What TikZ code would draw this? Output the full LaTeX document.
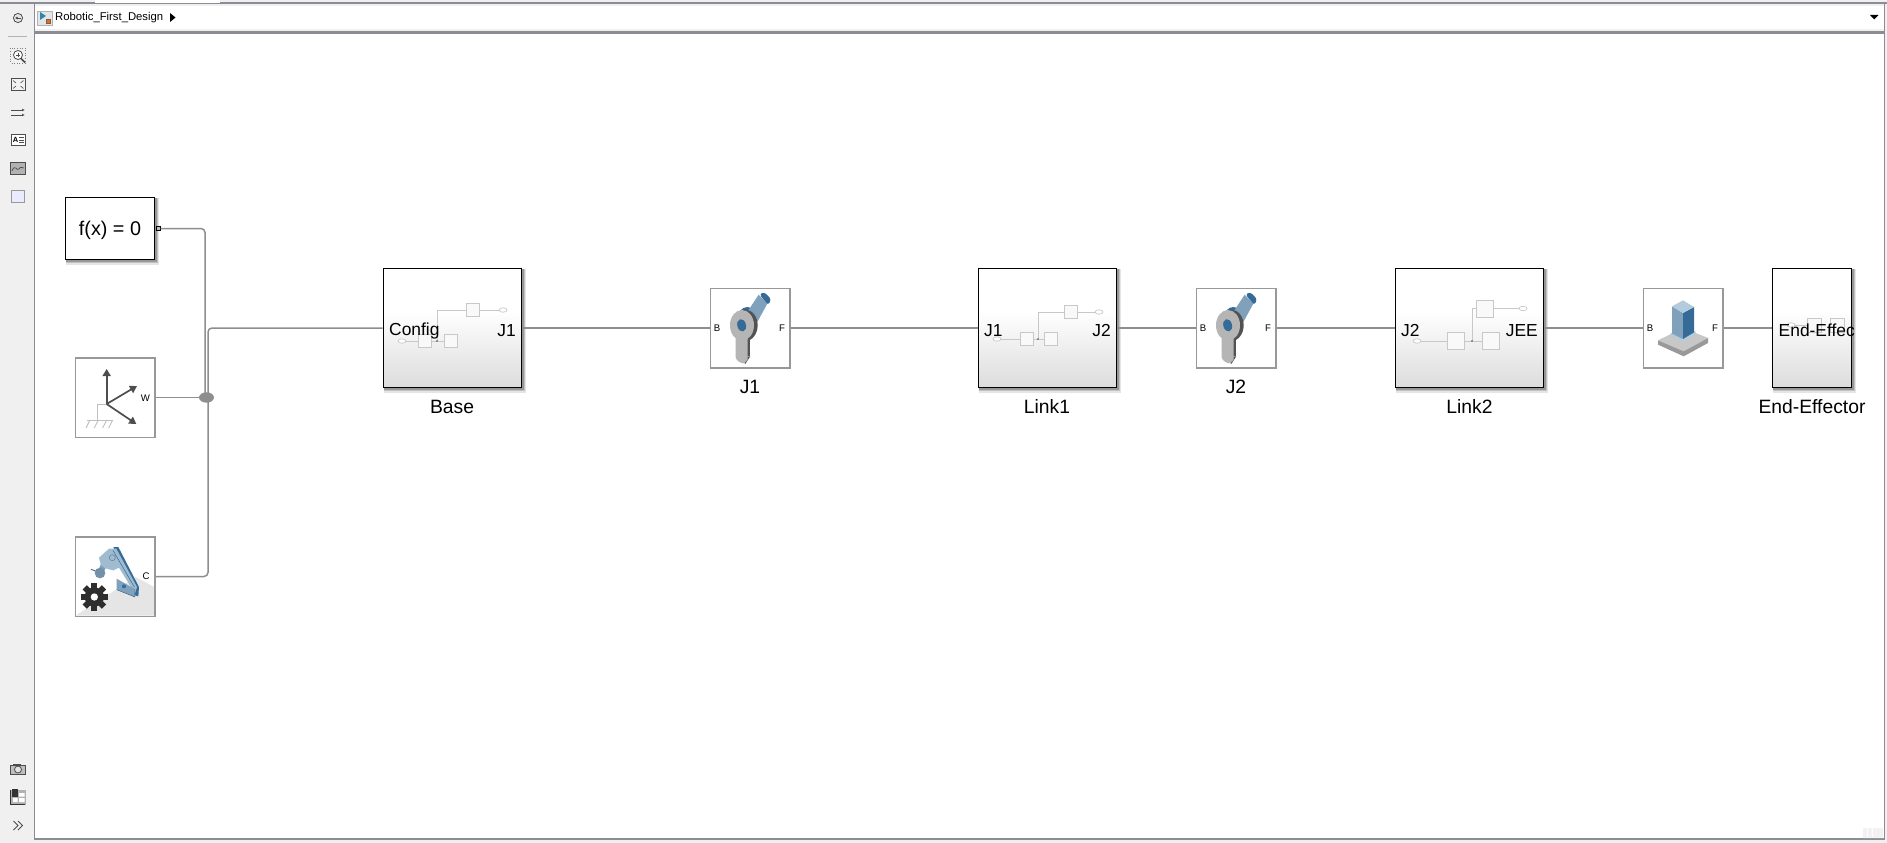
\documentclass[tikz,border=0pt]{standalone}
\usepackage{fontspec}
\setmainfont{Liberation Sans}
\usetikzlibrary{arrows.meta}
\definecolor{uibg}{HTML}{F0F0F0}
\definecolor{uiline}{HTML}{8C8C94}
\definecolor{wirec}{HTML}{8E8E8E}
\definecolor{sgray}{HTML}{DCDCDC}
\definecolor{blockg}{HTML}{989898}
\definecolor{thumb}{HTML}{C8C8C8}
\definecolor{bluea}{HTML}{7FA1BC}
\definecolor{blueb}{HTML}{356B96}
\definecolor{bluec}{HTML}{B3CCDD}
\definecolor{iconc}{HTML}{4D4D4D}
\pgfdeclareverticalshading{subsysfill}{100bp}{color(0bp)=(sgray); color(25bp)=(sgray); color(57bp)=(white); color(100bp)=(white)}
\newcommand{\fs}[1]{\fontsize{#1}{#1}\selectfont}
\tikzset{
  subsys/.style={draw=black,line width=1.4pt,shading=subsysfill,shade,inner sep=0pt,minimum height=119.5pt},
  lib/.style={draw=blockg,line width=1.5pt,fill=white,inner sep=0pt,minimum width=79.5pt,minimum height=79.5pt},
  wire/.style={draw=wirec,line width=1.5pt,rounded corners=4pt},
  blocklabel/.style={font=\fs{19.3},text=black,inner sep=0pt},
  portlabel/.style={font=\fs{17.4},text=black,inner sep=0pt},
  smallport/.style={font=\fs{9.6},text=black,inner sep=0pt},
  thumbline/.style={draw=thumb,line width=.7pt},
  thumbbox/.style={draw=thumb,line width=.7pt,fill=white!60!uibg},
  uiicon/.style={draw=iconc,line width=.8pt},
}
% soft shadow to the lower right of a block: x0,y0,x1,y1 of the block
\newcommand{\softshadow}[4]{%
  \fill[black,opacity=.10] ({#1+1},{#2+1}) rectangle ({#3+4},{#4+4.5});
  \fill[black,opacity=.15] ({#1+1},{#2+1}) rectangle ({#3+3},{#4+3.2});
  \fill[black,opacity=.22] ({#1+1},{#2+1}) rectangle ({#3+2},{#4+2});
}
\newcommand{\thumbnail}[8]{%
  \draw[thumbline] (#1,#2) -- (#4,#2) (#5,#2) -- (#5,#7) -- (#8,#7);
  \fill[black!70] (#5,#2) circle (.8pt);
  \draw[thumbline,fill=white] (#1,#2) ellipse (4pt and 2.2pt);
  \draw[thumbbox] ({#3},{#2-\thumbs/2}) rectangle ++(\thumbs,\thumbs);
  \draw[thumbbox] ({#4},{#2-\thumbs/2}) rectangle ++(\thumbs,\thumbs);
  \draw[thumbbox] ({#6},{#7-\thumbs/2}) rectangle ++(\thumbs,\thumbs);
  \draw[thumbline,fill=white] (#8,#7) ellipse (4pt and 2.2pt);
}
\newcommand{\revicon}[2]{\begin{scope}[shift={(#1,#2)},x=.3333pt,y=-.3333pt]
  \fill[blueb,rounded corners=3pt] (148,18) -- (163,12) -- (184,34) -- (174,52) -- cycle;
  \fill[blueb] (112,95) ellipse (30 and 38);
  \fill[bluea] (146,20) -- (172,47) -- (142,102) -- (108,78) -- cycle;
  \fill[black!68] (106,112) ellipse (37 and 47);
  \fill[black!68] (100,150) rectangle (121,205);
  \fill[black!68] (121,205) -- (105,229) -- (100,205) -- cycle;
  \fill[black!29] (77,140) -- (77,208) .. controls (79,218) and (92,226) .. (102,226) -- (113,215) -- (113,140) -- cycle;
  \fill[black!29] (96,112) ellipse (36 and 46);
  \begin{scope}[rotate around={15:(95,112)}]
    \fill[blueb] (95,112) ellipse (13 and 19);
  \end{scope}
\end{scope}}
\begin{document}
\begin{tikzpicture}[x=1pt,y=-1pt]
\useasboundingbox (0,0) rectangle (1887,843);
% window chrome
\fill[uibg] (0,0) rectangle (1887,843);
\fill[white] (34,33) rectangle (1884,839);
\fill[white] (34,6) rectangle (1884,29.5);
\draw[uiline,line width=1.4pt] (0,3) -- (1887,3);
\fill[white] (95,0) rectangle (220,3);
\draw[uiline,line width=2.2pt] (34,32.5) -- (1884,32.5);
\draw[uiline,line width=1.2pt] (34.5,3) -- (34.5,839) -- (1884.5,839) -- (1884.5,3);
\fill[black!5] (1863,828) rectangle (1867,838) (1868,828) rectangle (1872,838) (1873,828) rectangle (1883,838);
% address bar
\node[font=\fs{11.3},anchor=west,inner sep=0pt] (addr) at (55,18) {Robotic\_First\_Design};
\fill[black] (170,13) -- (175.5,17.5) -- (170,22) -- cycle;
\draw[black!30,fill=white!90!black,line width=.6pt] (37.5,11) rectangle (52,25.5);
\fill[blueb!80!cyan] (40,12) -- (46,16) -- (40,20) -- cycle;
\fill[orange!80!red] (46,19) rectangle (50.5,23.5);
\draw[black!60,line width=.5pt] (46,19) rectangle (50.5,23.5);
\fill[black] (1870,15) -- (1878.5,15) -- (1874.2,19.5) -- cycle;
% left toolbar
\draw[iconc,line width=.8pt,fill=black!10] (18,18) circle (4.6pt);
\draw[iconc,line width=.9pt,-{Latex[length=2.5pt,width=3pt]}] (21,18) -- (15,18);
\draw[black!30,line width=.7pt] (8,36.5) -- (27,36.5);
\draw[black!50,dotted,line width=.6pt] (10.5,48.5) rectangle (25.5,63);
\draw[iconc,line width=.8pt,fill=white] (18,55) circle (4.5pt);
\draw[iconc,line width=1.5pt] (21,58.5) -- (25,62.5);
\draw[iconc,line width=.6pt] (16,55) -- (20,55) (18,53) -- (18,57);
\draw[uiicon,fill=black!5] (11,78.5) rectangle (25.5,90.5);
\draw[iconc,line width=.6pt] (13,80.5) -- (16,83) (23.5,80.5) -- (20.5,83) (13,88.5) -- (16,86) (23.5,88.5) -- (20.5,86);
\draw[iconc,line width=.7pt,-{Latex[length=3pt,width=3pt,open]}] (11,110) -- (25,110);
\draw[iconc,line width=.7pt,-{Latex[length=3pt,width=3pt,open]}] (11,115) -- (25,115);
\draw[uiicon,fill=white] (11.5,134.5) rectangle (25,145.5);
\node[font=\bfseries\fs{7.5},inner sep=0pt] (aicon) at (15.5,140) {A};
\draw[iconc,line width=.6pt] (19,137.5) -- (23.5,137.5) (19,140) -- (23.5,140) (19,142.5) -- (23.5,142.5);
\draw[uiicon,fill=black!30] (10.5,162) rectangle (25.5,174.5);
\draw[iconc,line width=.7pt] (12,171) .. controls (15,163) and (17,172) .. (19,169) .. controls (21,166) and (22,168) .. (24,168);
\draw[black!40,line width=.8pt,fill=blue!8] (11.5,190) rectangle (24.5,202.5);
\draw[iconc,line width=.7pt,fill=black!25] (10.5,765) rectangle (25.5,774);
\fill[iconc] (13,763.5) rectangle (21,765);
\draw[iconc,line width=.8pt,fill=black!10] (18,769.5) circle (3.5pt);
\fill[black!30] (10.5,790) rectangle (25.5,804.5);
\fill[white] (19,793) rectangle (24.5,796.5) (19,798) rectangle (24.5,802) (13,798) rectangle (17.5,802);
\draw[black!80,line width=.8pt] (10.5,790) -- (10.5,804.5) -- (25,804.5);
\fill[black!80] (12,789) rectangle (17.5,797);
\draw[iconc,line width=.9pt] (13.5,821) -- (18,825.5) -- (13.5,830) (18,821) -- (22.5,825.5) -- (18,830);

% shadows
\softshadow{65}{197}{155}{260}
\softshadow{383}{268}{522}{388}
\softshadow{978}{268}{1117}{388}
\softshadow{1395}{268}{1544}{388}
\softshadow{1772}{268}{1852}{388}
% blocks
\node[draw=black,line width=1.4pt,fill=white,inner sep=0pt,minimum width=89.5pt,minimum height=62.5pt,
  font=\fs{19.8}] (fx) at (110,228.5) {\raisebox{-6.8pt}[0pt][0pt]{f(x) = 0}};
\node[draw=black,line width=1pt,fill=wirec!60,minimum width=4pt,minimum height=4pt,inner sep=0pt] (fxport) at (158,228.5) {};
\node[lib] (world) at (115,397.5) {};
\node[lib] (mech) at (115,576.5) {};
\node[subsys,minimum width=138.5pt] (base) at (452.5,328) {};
\node[lib] (j1) at (750,328) {};
\node[subsys,minimum width=138.5pt] (link1) at (1047.5,328) {};
\node[lib] (j2) at (1236,328) {};
\node[subsys,minimum width=148.5pt] (link2) at (1469.5,328) {};
\node[lib] (weld) at (1683,328) {};
\node[subsys,minimum width=79.5pt] (ee) at (1812,328) {};
\coordinate (junc0) at (206.5,397.5);

% thumbnails
\def\thumbs{13.5}
\thumbnail{402}{341}{418}{444}{437}{466}{310}{503}
\thumbnail{997}{339}{1020}{1044}{1038}{1064}{312}{1099}
\def\thumbs{17}
\thumbnail{1417}{341}{1447}{1482}{1472}{1476}{308.5}{1523}
\draw[thumbline,fill=white] (1791,325) ellipse (4pt and 2.2pt);
\draw[thumbline] (1795,325) -- (1807,325);
\draw[thumbbox] (1807,318) rectangle (1821,332);
\draw[thumbbox] (1830,318) rectangle (1844,332);

% wires
\draw[wire] (fxport.east) -| ([xshift=-1.5pt]junc0);
\draw[wire] (base.west) -| ([xshift=1.5pt]junc0);
\draw[wire] (mech.east) -| ([xshift=1.5pt]junc0);
\draw[wire] (world.east) -- (junc0);
\draw[wire] (base.east) -- (j1.west);
\draw[wire] (j1.east) -- (link1.west);
\draw[wire] (link1.east) -- (j2.west);
\draw[wire] (j2.east) -- (link2.west);
\draw[wire] (link2.east) -- (weld.west);
\draw[wire] (weld.east) -- (ee.west);
\fill[wirec] (junc0) ellipse (7.5pt and 5.2pt);

% port texts
\node[portlabel,anchor=west] (t1) at (389,330.5) {Config};
\node[portlabel,anchor=east] (t2) at (516,330.5) {J1};
\node[portlabel,anchor=west] (t3) at (984,330.5) {J1};
\node[portlabel,anchor=east] (t4) at (1111,330.5) {J2};
\node[portlabel,anchor=west] (t5) at (1401,330.5) {J2};
\node[portlabel,anchor=east] (t6) at (1538,330.5) {JEE};
\node[portlabel,anchor=west] (t7) at (1778.5,330.5) {End-Effec};
\node[smallport] (tb1) at (717,328.5) {B};
\node[smallport] (tf1) at (782,328.5) {F};
\node[smallport] (tb2) at (1203,328.5) {B};
\node[smallport] (tf2) at (1268,328.5) {F};
\node[smallport] (tb3) at (1650,328.5) {B};
\node[smallport] (tf3) at (1715,328.5) {F};
\node[smallport] (tw) at (145.5,398) {W};
\node[smallport] (tc) at (146,576) {C};

% block labels
\node[blocklabel] (lb) at (452,407) {Base};
\node[blocklabel] (lj1) at (750,387) {J1};
\node[blocklabel] (ll1) at (1047,407) {Link1};
\node[blocklabel] (lj2) at (1236,387) {J2};
\node[blocklabel] (ll2) at (1469.5,407) {Link2};
\node[blocklabel] (lee) at (1812,407) {End-Effector};

% library icons
\revicon{710}{288}
\revicon{1196}{288}
% weld
\begin{scope}[shift={(1643,288)},x=.3333pt,y=-.3333pt]
  \fill[black!40] (45,157) -- (45,170) -- (122,205) -- (195,165) -- (195,150) -- cycle;
  \fill[black!22] (45,157) -- (120,120) -- (195,150) -- (122,190) -- cycle;
  \fill[bluec] (83,135) -- (83,142) -- (122,160) -- (158,140) -- (158,130) -- cycle;
  \fill[bluea] (87,55) -- (120,75) -- (120,153) -- (87,137) -- cycle;
  \fill[blueb] (120,75) -- (153,57) -- (153,133) -- (120,153) -- cycle;
  \fill[bluec] (87,55) -- (120,37) -- (153,57) -- (120,75) -- cycle;
\end{scope}
% world frame
\begin{scope}[shift={(75,358)},x=.3333pt,y=-.3333pt]
  \draw[black!25,line width=.9pt] (95,138) -- (68,138) -- (68,186) (35,186) -- (113,186);
  \draw[black!25,line width=.9pt] (45,186) -- (33,210) (70,186) -- (58,210) (95,186) -- (83,210) (113,186) -- (101,210);
  \draw[iconc,line width=1.7pt,-{Triangle[length=7pt,width=8pt]}] (95,138) -- (95,33);
  \draw[iconc,line width=1.7pt,-{Triangle[length=7pt,width=8pt]}] (95,138) -- (186,84);
  \draw[iconc,line width=1.7pt,-{Triangle[length=7pt,width=8pt]}] (95,138) -- (184,198);
\end{scope}
% mechanism configuration
\begin{scope}[shift={(75,537)},x=.3333pt,y=-.3333pt]
  \fill[black!10] (3,235) -- (182,120) -- (237,150) -- (237,236) -- (3,236) -- cycle;
  \draw[blueb,line width=.9pt] (48,97) -- (75,107);
  \fill[bluea] (78,80) -- (92,95) -- (84,108) -- (70,100) -- cycle;
  \fill[bluea!90!black] (75,108) circle (16);
  \fill[blueb] (115,30) -- (130,30) -- (192,150) -- (190,178) -- (180,175) -- cycle;
  \fill[bluec!60!bluea] (72,62) -- (102,35) -- (124,35) -- (186,150) -- (180,170) -- (168,150) -- (132,92) -- (115,100) -- (95,95) -- (78,85) -- cycle;
  \draw[blueb,line width=.5pt] (114,40) -- (178,150);
  \draw[bluea!70!black,line width=.4pt] (112,62) circle (9);
  \fill[bluea] (125,125) -- (178,155) -- (180,180) -- (125,158) -- cycle;
  \draw[blueb,line width=.5pt] (125,158) -- (180,180) -- (180,155);
  \fill[blueb] (147,148) circle (6);
  \fill[black!82] (58,180) circle (29);
  \foreach \a in {0,45,...,315} {
    \fill[black!82,rotate around={\a:(58,180)}] (49,139) rectangle (67,155);
  }
  \fill[white] (58,180) circle (11);
\end{scope}
\end{tikzpicture}
\end{document}
